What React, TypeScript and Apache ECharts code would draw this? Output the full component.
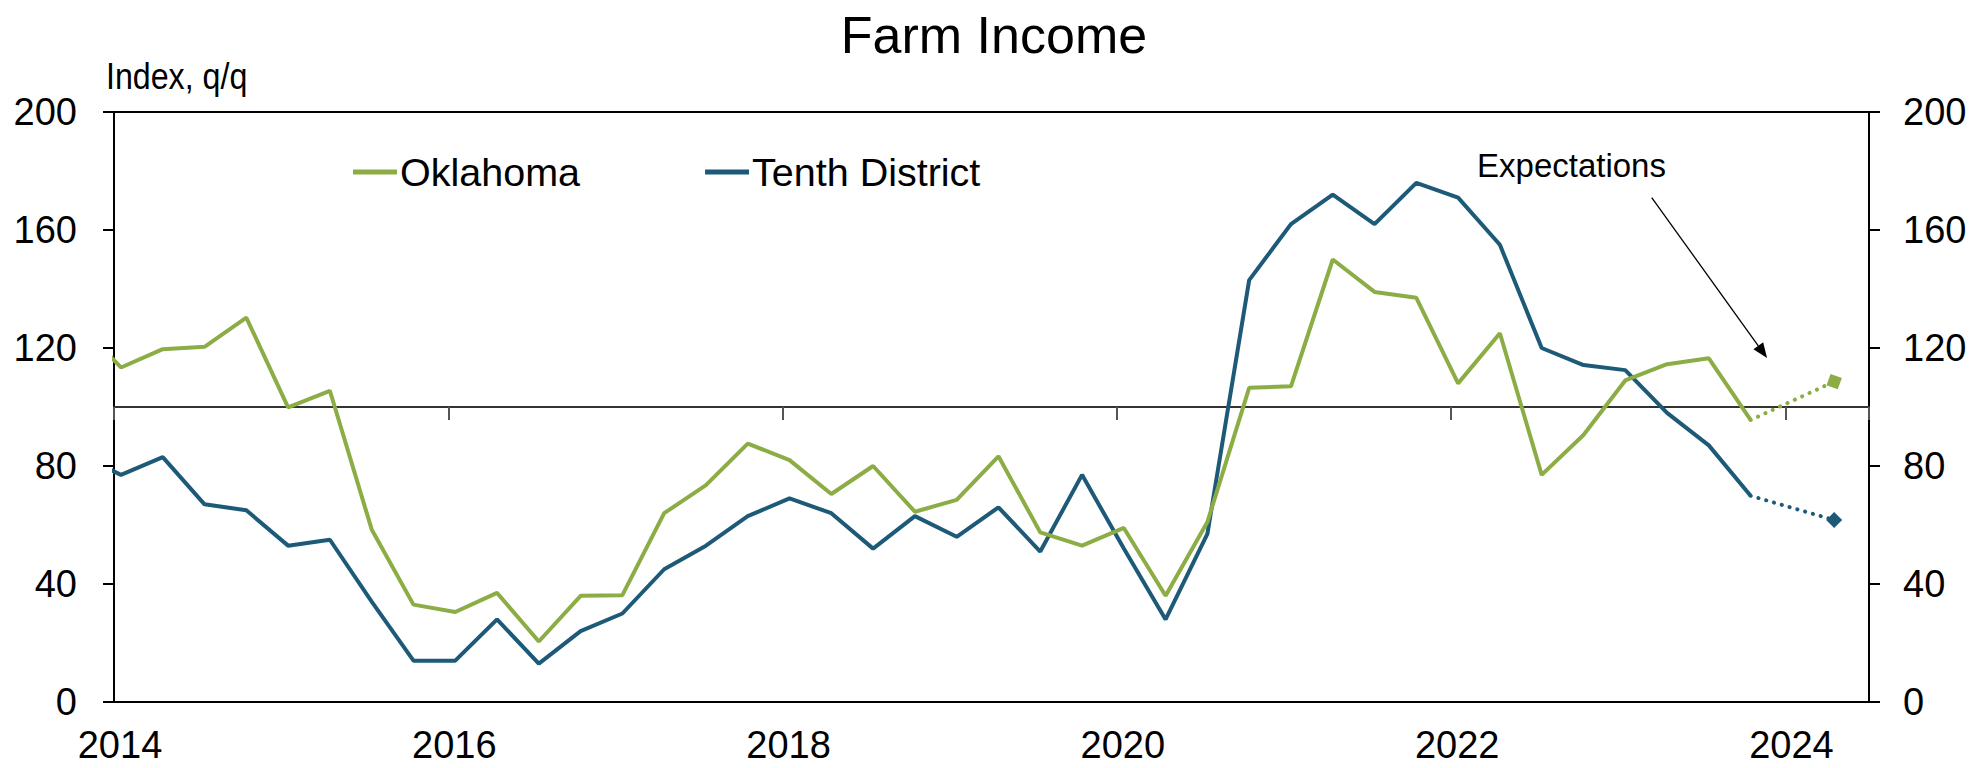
import React, { useEffect, useRef } from 'react';
import * as echarts from 'echarts';

// Quarterly observations (Q4 2013 is partly clipped at the left edge)
const quarters = [
  '2013Q4',
  '2014Q1', '2014Q2', '2014Q3', '2014Q4',
  '2015Q1', '2015Q2', '2015Q3', '2015Q4',
  '2016Q1', '2016Q2', '2016Q3', '2016Q4',
  '2017Q1', '2017Q2', '2017Q3', '2017Q4',
  '2018Q1', '2018Q2', '2018Q3', '2018Q4',
  '2019Q1', '2019Q2', '2019Q3', '2019Q4',
  '2020Q1', '2020Q2', '2020Q3', '2020Q4',
  '2021Q1', '2021Q2', '2021Q3', '2021Q4',
  '2022Q1', '2022Q2', '2022Q3', '2022Q4',
  '2023Q1', '2023Q2', '2023Q3', '2023Q4',
];

const oklahoma = [
  128,
  113.4, 119.6, 120.4, 130.3,
  99.9, 105.5, 58.5, 33,
  30.5, 37, 20.5, 36,
  36.2, 64, 73.5, 87.6,
  82, 70.5, 80, 64.5,
  68.5, 83.3, 57.5, 53,
  59, 36, 61, 106.5,
  107, 150, 139, 137,
  108, 125, 77, 90.5,
  109, 114.5, 116.5, 95.6,
];

const tenthDistrict = [
  84,
  77, 83, 67, 65,
  53, 55, 34, 14,
  14, 28, 13, 24,
  30, 45, 53, 63,
  69, 64, 52, 63,
  56, 66, 51, 77,
  52, 28, 57, 143,
  162, 172, 162, 176,
  171, 155, 120, 114.2,
  112.5, 98, 87, 69.9,
];

// Expectations
const expectationQuarter = '2024Q2';
const oklahomaExpectation = 108.6;
const tenthExpectation = 61.7;

const yTicks = [0, 40, 80, 120, 160, 200];
const xTickYears = [2014, 2016, 2018, 2020, 2022, 2024];

const GREEN = '#8CAD45';
const BLUE = '#1D5A78';
const FONT = '"Liberation Sans", Arial, Helvetica, sans-serif';

// plot a quarter at the middle of its first month
const toX = (q: string) => {
  const y = Number(q.slice(0, 4));
  const qn = Number(q.slice(5));
  const month = (qn - 1) * 3 + 1;
  return y + (month - 0.5) / 12;
};

export default function App() {
  const ref = useRef<HTMLDivElement>(null);

  useEffect(() => {
    document.body.style.margin = '0';
    if (!ref.current) return;
    const chart = echarts.init(ref.current, undefined, { renderer: 'svg' });

    const okData = quarters.map((q, i) => [toX(q), oklahoma[i]]);
    const tdData = quarters.map((q, i) => [toX(q), tenthDistrict[i]]);
    const lastQ = quarters[quarters.length - 1];
    const okExp = [
      [toX(lastQ), oklahoma[oklahoma.length - 1]],
      { value: [toX(expectationQuarter), oklahomaExpectation], symbol: 'rect', symbolSize: 12, symbolRotate: -20 },
    ];
    const tdExp = [
      [toX(lastQ), tenthDistrict[tenthDistrict.length - 1]],
      { value: [toX(expectationQuarter), tenthExpectation], symbol: 'diamond', symbolSize: 16 },
    ];

    const xMin = 2014;
    const xMax = 2024.5;

    const labelStyle = { fontSize: 38, color: '#000', fontFamily: FONT };

    chart.setOption({
      animation: false,
      textStyle: { fontFamily: FONT },
      title: {
        text: 'Farm Income',
        left: 'center',
        top: 4,
        textStyle: { fontSize: 52, fontWeight: 'normal', color: '#000', fontFamily: FONT },
      },
      legend: {
        data: ['Oklahoma', 'Tenth District'],
        left: 348,
        top: 147,
        icon: 'rect',
        itemWidth: 44,
        itemHeight: 5,
        itemGap: 125,
        textStyle: { fontSize: 39.5, color: '#000', fontFamily: FONT, padding: [0, 0, 0, -2] },
      },
      grid: [
        {
          left: 114,
          top: 112,
          width: 1755,
          height: 590,
          show: true,
          borderColor: '#000',
          borderWidth: 2,
          containLabel: false,
        },
        {
          left: 114,
          top: 112,
          width: 1755,
          height: 295,
          show: false,
          containLabel: false,
        },
      ],
      xAxis: [
        {
          type: 'value',
          gridIndex: 0,
          min: xMin,
          max: xMax,
          interval: 2,
          axisLine: { show: false },
          axisTick: { show: false },
          splitLine: { show: false },
          axisLabel: {
            ...labelStyle,
            margin: 24,
            padding: [0, 0, 0, 12],
            formatter: (v: number) => (xTickYears.includes(Math.round(v)) && Math.abs(v - Math.round(v)) < 1e-6 ? String(Math.round(v)) : ''),
          },
        },
        {
          type: 'value',
          gridIndex: 1,
          min: xMin,
          max: xMax,
          interval: 2,
          position: 'bottom',
          axisLine: { show: true, onZero: false, lineStyle: { color: '#333', width: 2 } },
          axisTick: { show: true, inside: false, length: 13, lineStyle: { color: '#555', width: 2 } },
          axisLabel: { show: false },
          splitLine: { show: false },
        },
      ],
      yAxis: [
        {
          type: 'value',
          gridIndex: 0,
          position: 'left',
          min: yTicks[0],
          max: yTicks[yTicks.length - 1],
          interval: 40,
          axisLine: { show: true, lineStyle: { color: '#000', width: 2 } },
          axisTick: { show: true, inside: false, length: 11, lineStyle: { color: '#000', width: 2 } },
          splitLine: { show: false },
          axisLabel: { ...labelStyle, margin: 37 },
        },
        {
          type: 'value',
          gridIndex: 0,
          position: 'right',
          min: yTicks[0],
          max: yTicks[yTicks.length - 1],
          interval: 40,
          axisLine: { show: true, lineStyle: { color: '#000', width: 2 } },
          axisTick: { show: true, inside: false, length: 11, lineStyle: { color: '#000', width: 2 } },
          splitLine: { show: false },
          axisLabel: { ...labelStyle, margin: 34 },
        },
        {
          type: 'value',
          gridIndex: 1,
          min: 100,
          max: 200,
          show: false,
        },
      ],
      series: [
        {
          name: 'Tenth District',
          type: 'line',
          xAxisIndex: 0,
          yAxisIndex: 0,
          data: tdData,
          symbol: 'none',
          color: BLUE,
          lineStyle: { color: BLUE, width: 4 },
          clip: true,
          z: 3,
        },
        {
          name: 'Oklahoma',
          type: 'line',
          xAxisIndex: 0,
          yAxisIndex: 0,
          data: okData,
          symbol: 'none',
          color: GREEN,
          lineStyle: { color: GREEN, width: 4 },
          clip: true,
          z: 4,
        },
        {
          name: 'Tenth District expectation',
          type: 'line',
          xAxisIndex: 0,
          yAxisIndex: 0,
          data: tdExp,
          symbol: 'none',
          showSymbol: true,
          color: BLUE,
          itemStyle: { color: BLUE },
          lineStyle: { color: BLUE, width: 4, type: [0.1, 8], cap: 'round' },
          z: 3,
        },
        {
          name: 'Oklahoma expectation',
          type: 'line',
          xAxisIndex: 0,
          yAxisIndex: 0,
          data: okExp,
          symbol: 'none',
          showSymbol: true,
          color: GREEN,
          itemStyle: { color: GREEN },
          lineStyle: { color: GREEN, width: 4, type: [0.1, 8], cap: 'round' },
          z: 4,
        },
      ],
    });

    // annotations
    const p = (x: number, y: number) => chart.convertToPixel({ gridIndex: 0 }, [x, y]) as number[];
    const start = p(2023.2, 171);
    const tip = p(2023.89, 116.6);
    const dx = tip[0] - start[0];
    const dy = tip[1] - start[1];
    const len = Math.sqrt(dx * dx + dy * dy);
    const ux = dx / len;
    const uy = dy / len;
    const nx = -uy;
    const ny = ux;
    const headLen = 15;
    const headHalf = 6;
    const base = [tip[0] - ux * headLen, tip[1] - uy * headLen];
    const textPos = p(2022.72, 182);

    chart.setOption({
      graphic: [
        {
          type: 'text',
          x: 106,
          y: 58,
          scaleX: 0.87,
          style: { text: 'Index, q/q', fontSize: 37, fill: '#000', fontFamily: FONT, align: 'left', verticalAlign: 'top' },
        },
        {
          type: 'text',
          x: textPos[0],
          y: textPos[1],
          style: { text: 'Expectations', fontSize: 33, fill: '#000', fontFamily: FONT, align: 'center', verticalAlign: 'middle' },
        },
        {
          type: 'line',
          shape: { x1: start[0], y1: start[1], x2: base[0], y2: base[1] },
          style: { stroke: '#000', lineWidth: 1.3 },
        },
        {
          type: 'polygon',
          shape: {
            points: [
              [tip[0], tip[1]],
              [base[0] + nx * headHalf, base[1] + ny * headHalf],
              [base[0] - nx * headHalf, base[1] - ny * headHalf],
            ],
          },
          style: { fill: '#000' },
        },
      ],
    });

    return () => chart.dispose();
  }, []);

  return <div ref={ref} style={{ width: 1988, height: 768 }} />;
}
